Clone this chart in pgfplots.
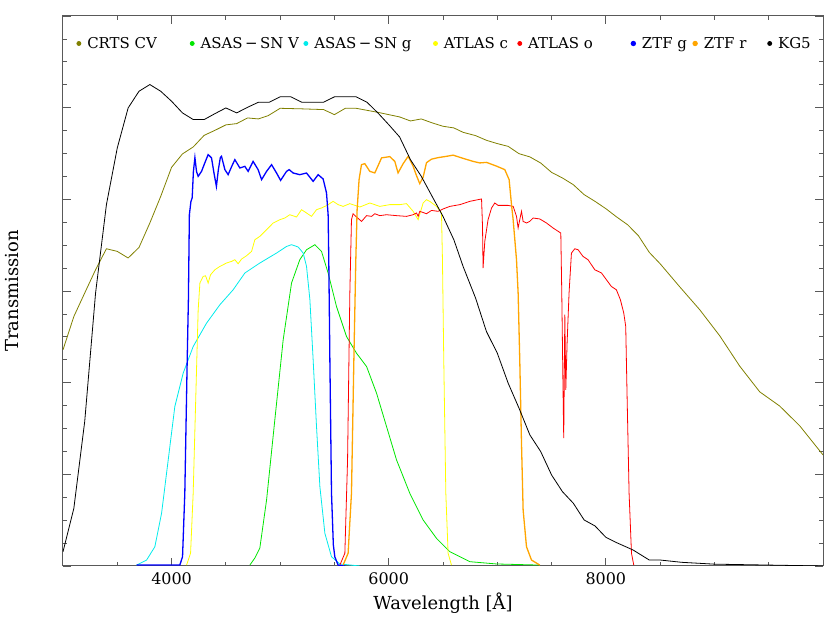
\documentclass[border=0pt]{standalone}
\usepackage{fontspec}
\setmainfont{DejaVu Serif}
\usepackage{pgfplots}
\pgfplotsset{compat=1.18}
\newcommand\legbox[2]{\makebox[#1][l]{\hspace{6bp}#2}}
\definecolor{crts}{RGB}{128,128,0}
\definecolor{asv}{RGB}{0,230,0}
\definecolor{asg}{RGB}{0,235,235}
\definecolor{atc}{RGB}{255,255,0}
\definecolor{ato}{RGB}{255,0,0}
\definecolor{ztg}{RGB}{0,0,255}
\definecolor{ztr}{RGB}{255,165,0}
\begin{document}
\begin{tikzpicture}
\begin{axis}[
  scale only axis, width=760bp, height=550bp,
  xmin=3000, xmax=10000, ymin=0, ymax=0.6,
  xtick={4000,6000,8000},
  minor xtick={3500,4500,5000,5500,6500,7000,7500,8500,9000,9500},
  ytick={0,0.1,0.2,0.3,0.4,0.5,0.6}, yticklabels={},
  minor ytick={0.025,0.05,0.075,0.125,0.15,0.175,0.225,0.25,0.275,0.325,0.35,0.375,0.425,0.45,0.475,0.525,0.55,0.575},
  tick align=inside, tick pos=both,
  major tick length=8bp, minor tick length=4bp,
  axis line style={black!65, line width=1bp},
  every tick/.append style={black!65, line width=0.8bp},
  scaled x ticks=false,
  /pgf/number format/assume math mode=true,
  /pgf/number format/1000 sep={},
  tick label style={font=\fontsize{16}{19}\selectfont},
  xticklabel style={yshift=-3bp},
  xlabel={Wavelength [Å]}, ylabel={Transmission},
  every axis x label/.style={at={(axis description cs:0.5,-0.067)}, anchor=center, font=\fontsize{18}{22}\selectfont},
  every axis y label/.style={at={(axis description cs:-0.067,0.5)}, anchor=center, rotate=90, font=\fontsize{18}{22}\selectfont},
  legend columns=8,
  legend image code/.code={\fill[#1] (0bp,0bp) circle (2bp);},
  legend style={draw=none, fill=none, inner sep=0pt, column sep=0pt, nodes={inner sep=0pt},
    font=\fontsize{15}{18}\selectfont,
    at={(axis description cs:0,1)}, anchor=north west, xshift=13.3bp, yshift=-21bp},
  every axis plot/.append style={line width=0.8bp},
]
% CRTS CV
\addplot[crts] coordinates {
(3000,0.2358) (3100,0.2722) (3200,0.2978) (3300,0.3232) (3400,0.3461) (3500,0.3432) (3600,0.336) (3700,0.3475) (3800,0.3742) (3900,0.4032) (4000,0.4349) (4100,0.4495) (4200,0.4572) (4300,0.4698) (4400,0.4753) (4500,0.4812) (4600,0.4826) (4700,0.4888) (4800,0.4877) (4890,0.4913) (5000,0.4993) (5200,0.4987) (5400,0.4979) (5500,0.4924) (5600,0.4993) (5700,0.4993) (5800,0.4971) (5900,0.4949) (6000,0.4924) (6100,0.4899) (6200,0.4855) (6300,0.4877) (6400,0.4834) (6500,0.4797) (6600,0.4779) (6685,0.4731) (6800,0.4695) (6900,0.4644) (7000,0.4608) (7100,0.4578) (7200,0.4498) (7300,0.4463) (7400,0.4396) (7500,0.4294) (7600,0.4233) (7700,0.416) (7800,0.4051) (7900,0.3978) (8000,0.3898) (8100,0.3807) (8200,0.3723) (8300,0.3603) (8400,0.3421) (8500,0.3297) (8680,0.3046) (8865,0.2795) (9049,0.2511) (9233,0.2180) (9417,0.1900) (9601,0.1745) (9785,0.1530) (10000,0.1212)
};
\addlegendentry{\legbox{108.5bp}{CRTS CV}}
% ASAS-SN V
\addplot[asv] coordinates {
(4721,0.001) (4767,0.0087) (4813,0.0196) (4875,0.072) (4951,0.1594) (5028,0.2468) (5105,0.3087) (5181,0.3341) (5243,0.345) (5320,0.3505) (5381,0.3432) (5442,0.3196) (5519,0.2831) (5611,0.2504) (5703,0.2322) (5796,0.2176) (5888,0.1885) (5980,0.1521) (6072,0.1157) (6194,0.0794) (6317,0.0502) (6440,0.0302) (6563,0.0156) (6747,0.0047) (6993,0.0022) (7391,0.001)
};
\addlegendentry{\legbox{108.9bp}{ASAS\,−\,SN V}}
% ASAS-SN g
\addplot[asg] coordinates {
(3678,0.001) (3770,0.0065) (3846,0.021) (3908,0.0575) (3969,0.1157) (4030,0.1739) (4107,0.2104) (4199,0.2394) (4322,0.2649) (4445,0.285) (4567,0.3013) (4675,0.3196) (4813,0.3305) (4967,0.3414) (5059,0.3486) (5105,0.3505) (5166,0.348) (5212,0.3414) (5243,0.3268) (5274,0.2904) (5304,0.2249) (5335,0.1521) (5366,0.0866) (5412,0.0357) (5473,0.0101) (5550,0.0022) (5734,0.0)
};
\addlegendentry{\legbox{124.8bp}{ASAS\,−\,SN g}}
% ATLAS c
\addplot[atc] coordinates {
(4138,0.001) (4175,0.0139) (4199,0.0794) (4224,0.1886) (4245,0.2795) (4261,0.3087) (4291,0.3159) (4313,0.3166) (4337,0.3087) (4359,0.3177) (4399,0.3232) (4445,0.3268) (4506,0.3305) (4553,0.3323) (4583,0.3341) (4613,0.3297) (4645,0.3349) (4691,0.3385) (4737,0.3432) (4767,0.3559) (4813,0.3596) (4875,0.3669) (4936,0.3742) (4997,0.3778) (5043,0.3796) (5089,0.3832) (5151,0.3807) (5197,0.3887) (5243,0.3851) (5289,0.3814) (5335,0.3887) (5381,0.3906) (5427,0.3931) (5488,0.3978) (5534,0.3942) (5580,0.3923) (5642,0.3953) (5734,0.3916) (5826,0.396) (5918,0.3923) (6010,0.3942) (6102,0.3942) (6164,0.3953) (6225,0.3869) (6271,0.3778) (6317,0.396) (6348,0.3996) (6378,0.3978) (6440,0.3923) (6486,0.3851) (6495,0.3341) (6507,0.2249) (6526,0.0794) (6547,0.0139) (6578,0.001)
};
\addlegendentry{\legbox{79.5bp}{ATLAS c}}
% ATLAS o
\addplot[ato] coordinates {
(5550,0.001) (5596,0.0139) (5621,0.1157) (5642,0.2977) (5657,0.3778) (5672,0.3843) (5697,0.3814) (5750,0.3759) (5796,0.3822) (5842,0.3814) (5872,0.3843) (5918,0.3822) (5980,0.3832) (6072,0.3822) (6164,0.3814) (6225,0.3832) (6256,0.3851) (6271,0.3814) (6286,0.3869) (6348,0.3843) (6394,0.3879) (6455,0.3869) (6501,0.3895) (6563,0.3923) (6655,0.3942) (6747,0.3978) (6855,0.4004) (6864,0.3705) (6869,0.325) (6885,0.3541) (6915,0.3778) (6947,0.3905) (6977,0.396) (7007,0.3934) (7099,0.3934) (7146,0.3923) (7177,0.3814) (7192,0.3687) (7207,0.3778) (7223,0.3869) (7238,0.3759) (7269,0.3742) (7299,0.3759) (7330,0.3796) (7391,0.3786) (7453,0.3742) (7514,0.3687) (7585,0.3632) (7594,0.2977) (7606,0.1885) (7612,0.1394) (7622,0.2741) (7631,0.1922) (7643,0.2431) (7661,0.2977) (7683,0.3414) (7714,0.3461) (7744,0.345) (7790,0.3377) (7836,0.3341) (7898,0.3232) (7960,0.3196) (8005,0.3123) (8051,0.3049) (8097,0.3013) (8134,0.2904) (8165,0.2758) (8183,0.2613) (8195,0.1885) (8214,0.0794) (8236,0.0139) (8257,0.001)
};
\addlegendentry{\legbox{108.5bp}{ATLAS o}}
% ZTF g
\addplot[ztg, line width=1.3bp] coordinates {
(3678,0.001) (4076,0.001) (4101,0.0101) (4122,0.0797) (4144,0.2249) (4155,0.2904) (4164,0.3832) (4178,0.3974) (4190,0.4018) (4201,0.4302) (4215,0.4455) (4230,0.4302) (4245,0.4251) (4276,0.4305) (4307,0.44) (4337,0.4488) (4368,0.4452) (4390,0.4291) (4413,0.4141) (4431,0.4324) (4449,0.4455) (4460,0.4469) (4491,0.4324) (4521,0.4269) (4553,0.4357) (4583,0.4433) (4629,0.4342) (4675,0.436) (4705,0.4305) (4751,0.4414) (4797,0.4324) (4829,0.4215) (4875,0.4305) (4921,0.4378) (4967,0.4287) (5004,0.4207) (5059,0.4305) (5083,0.4324) (5120,0.4287) (5181,0.4269) (5243,0.4287) (5304,0.4196) (5350,0.4269) (5396,0.4222) (5427,0.407) (5442,0.3832) (5448,0.3341) (5458,0.2249) (5473,0.0797) (5490,0.0229) (5504,0.0098) (5534,0.001) (5596,0.0)
};
\addlegendentry{\legbox{56.5bp}{ZTF g}}
% ZTF r
\addplot[ztr, line width=1.3bp] coordinates {
(5580,0.001) (5626,0.0139) (5657,0.0794) (5679,0.2249) (5697,0.3341) (5709,0.3887) (5727,0.4215) (5749,0.4378) (5780,0.4389) (5826,0.4305) (5872,0.4288) (5902,0.4367) (5934,0.4452) (6010,0.4466) (6056,0.4414) (6086,0.4288) (6133,0.4389) (6179,0.4469) (6225,0.436) (6256,0.4258) (6286,0.4171) (6317,0.4242) (6348,0.44) (6394,0.4438) (6455,0.4455) (6532,0.4469) (6593,0.4482) (6685,0.4447) (6777,0.4414) (6839,0.4397) (6901,0.4403) (6993,0.4362) (7069,0.4324) (7109,0.4215) (7131,0.3942) (7146,0.3778) (7177,0.3341) (7192,0.2977) (7207,0.2249) (7223,0.134) (7238,0.0611) (7269,0.021) (7315,0.0065) (7391,0.001)
};
\addlegendentry{\legbox{69.5bp}{ZTF r}}
% KG5
\addplot[black] coordinates {
(3000,0.0156) (3100,0.063) (3200,0.1576) (3300,0.2978) (3400,0.3942) (3500,0.4561) (3600,0.4997) (3700,0.5179) (3800,0.5252) (3900,0.5179) (4000,0.507) (4100,0.4943) (4200,0.487) (4300,0.487) (4400,0.4935) (4500,0.4997) (4600,0.4943) (4700,0.5004) (4800,0.5059) (4900,0.5059) (5000,0.5118) (5100,0.5118) (5200,0.5059) (5400,0.5059) (5500,0.5118) (5700,0.5118) (5800,0.5059) (5900,0.4943) (6000,0.4815) (6100,0.4681) (6200,0.4433) (6300,0.4251) (6400,0.4032) (6500,0.3814) (6600,0.3559) (6685,0.3268) (6800,0.2923) (6900,0.2558) (7000,0.2322) (7100,0.1995) (7200,0.1722) (7300,0.143) (7400,0.1248) (7500,0.0993) (7600,0.0811) (7700,0.0685) (7800,0.0502) (7900,0.0437) (8000,0.0313) (8100,0.0254) (8250,0.0175) (8400,0.0065) (8500,0.0065) (8700,0.004) (9000,0.002) (9500,0.001) (10000,0.0)
};
\addlegendentry{\hspace{6bp}KG5}
\end{axis}
\path ([xshift=-63bp,yshift=-57bp]current axis.south west) rectangle ([xshift=7bp,yshift=16bp]current axis.north east);
\end{tikzpicture}
\end{document}
